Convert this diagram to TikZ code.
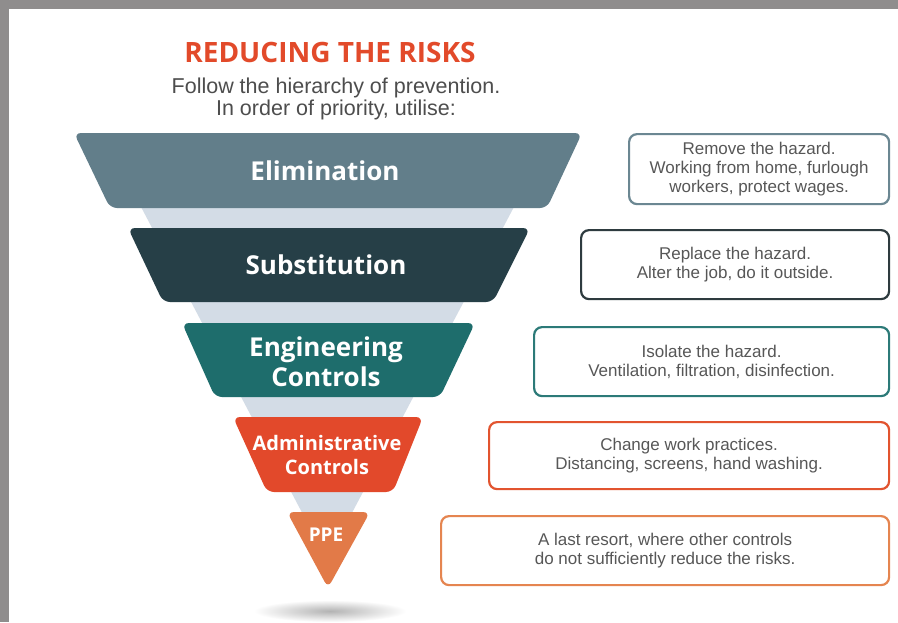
\documentclass[tikz,border=0pt]{standalone}
\usepackage{fontspec}
\setmainfont{Liberation Sans}
\newfontfamily\headfont{Open Sans}
\definecolor{frame}{HTML}{8F8D8D}
\definecolor{cElim}{HTML}{627E8A}
\definecolor{cSubs}{HTML}{263F47}
\definecolor{cEng}{HTML}{1E6D6C}
\definecolor{cAdm}{HTML}{E2492B}
\definecolor{cPPE}{HTML}{E27A48}
\definecolor{cLight}{HTML}{D3DCE6}
\definecolor{cTitle}{HTML}{E24A2A}
\definecolor{cSub}{HTML}{4D4D4D}
\definecolor{cText}{HTML}{575757}
\definecolor{bElim}{HTML}{6B8792}
\definecolor{bSubs}{HTML}{2E3B3F}
\definecolor{bEng}{HTML}{2C7A78}
\definecolor{bAdm}{HTML}{E2542F}
\definecolor{bPPE}{HTML}{E58550}
\begin{document}
\begin{tikzpicture}[x=1pt,y=-1pt,
  band/.style={rounded corners=7pt},
  bandlabel/.style={text=white,font=\headfont\bfseries\fontsize{26}{30}\selectfont,align=center,inner sep=0pt},
  smalllabel/.style={text=white,font=\headfont\bfseries\fontsize{20}{24}\selectfont,align=center,inner sep=0pt},
  infobox/.style={draw,line width=2.2pt,rounded corners=8pt,fill=white,text=cText,
     font=\fontsize{17}{19}\selectfont,align=center,inner sep=0pt,anchor=north west}]
\useasboundingbox (0,0) rectangle (898,622);
\fill[frame] (0,0) rectangle (898,622);
\fill[white] (8.5,9) rectangle (898,622);
% title
\node[text=cTitle,font=\headfont\bfseries\fontsize{28}{32}\selectfont,inner sep=0pt] (title) at (330,52) {REDUCING THE RISKS};
\node[text=cSub,font=\fontsize{21.5}{22}\selectfont,align=center,inner sep=0pt] (subtitle) at (336,99)
  {Follow the hierarchy of prevention.\\In order of priority, utilise:};
% funnel background and shadow
\shade[inner color=black!30,outer color=white] (330,611) ellipse [x radius=76, y radius=11];
\fill[cLight] (140,205) -- (515,205) -- (327,560) -- cycle;
% bands
\fill[cElim,band] (74,133) -- (582,133) -- (547,208) -- (110,208) -- cycle;
\fill[cSubs,band] (128,228) -- (530,228) -- (493,302) -- (163,302) -- cycle;
\fill[cEng,band] (182,323) -- (475,323) -- (440,397) -- (215,397) -- cycle;
\fill[cAdm,band] (233,417) -- (423,417) -- (393,492) -- (267,492) -- cycle;
\fill[cPPE,band] (287,512) -- (370,512) -- (328,588) -- cycle;
\node[bandlabel] (elim) at (325,171) {Elimination};
\node[bandlabel] (subs) at (326,265) {Substitution};
\node[bandlabel] (eng) at (326,362) {Engineering\\Controls};
\node[smalllabel] (adm) at (327,455) {Administrative\\Controls};
\node[text=white,font=\headfont\bfseries\fontsize{19}{22}\selectfont,inner sep=0pt] (ppe) at (326,535) {PPE};
% info boxes
\node[infobox,draw=bElim,minimum width=260pt,minimum height=70pt] (b1) at (628,133)
  {Remove the hazard.\\Working from home, furlough\\workers, protect wages.};
\node[infobox,draw=bSubs,minimum width=308pt,minimum height=69pt] (b2) at (580,229)
  {Replace the hazard.\\Alter the job, do it outside.};
\node[infobox,draw=bEng,minimum width=355pt,minimum height=69pt] (b3) at (533,326)
  {Isolate the hazard.\\Ventilation, filtration, disinfection.};
\node[infobox,draw=bAdm,minimum width=400pt,minimum height=67pt] (b4) at (488,421)
  {Change work practices.\\Distancing, screens, hand washing.};
\node[infobox,draw=bPPE,minimum width=448pt,minimum height=69pt] (b5) at (440,515)
  {A last resort, where other controls\\do not sufficiently reduce the risks.};
\end{tikzpicture}
\end{document}
